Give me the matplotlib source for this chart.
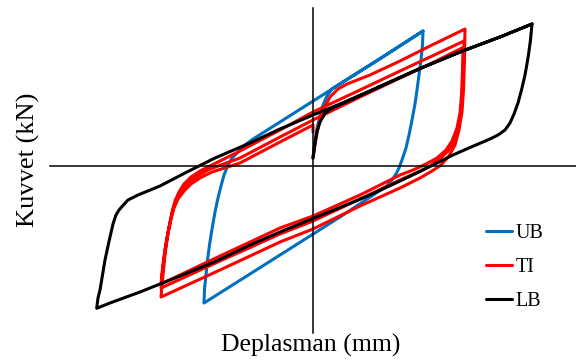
import matplotlib
matplotlib.use("Agg")
import matplotlib.pyplot as plt

# ---- data (displacement, force) ----
ub_disp = [0, 2, 4, 7, 10, 14, 19, 25, 67, 110,
           109.5, 108, 106, 104, 102, 99, 96, 93, 89, 86, 83, 79, 73,
           27, -33, -73, -109,
           -108.5, -107, -105.5, -103.5, -101, -98, -95, -92, -89, -85, -81, -75, -68, -61,
           -33, 0, 67, 110]
ub_force = [8.5, 26.5, 38.5, 50.5, 61.5, 70.5, 77.5, 81.5, 107.8, 135.5,
            121.5, 106.5, 91.5, 76.5, 62.5, 46.5, 31.5, 18.5, 6.5, -1.5, -7.5, -13.5, -20,
            -50.5, -88.5, -113.8, -136.5,
            -122.5, -108.5, -93.5, -78.5, -62.5, -45.5, -31.5, -19.5, -8.5, 1.5, 8.5, 14.5, 21.5, 26.8,
            44.5, 65.4, 107.8, 135.5]

ti_disp = [0, 2, 5, 10, 17, 25, 34, 57, 87, 117, 152,
           151.5, 150.5, 149, 146, 142, 136, 128, 119, 107, 87, 47, 0, -33, -93, -152,
           -151, -149.5, -148, -146, -143.5, -141, -138, -134, -129, -122, -113, -101, -73, -33, 0, 47, 87, 117, 151,
           150.5, 149.5, 148, 145, 141, 135, 127, 117, 105, 87, 47, 0, -33, -93, -152,
           -151, -149.5, -147.5, -145, -142, -139, -135, -130, -123, -114, -103, -73, -33, 0, 47, 87, 117, 150,
           149.5, 148.5, 147, 144, 139, 133, 124, 113, 100, 87, 47, 0, -33, -93, -152,
           -151, -149.5, -147.5, -145, -142, -139, -135, -129, -122, -113, -101, -73, -33, 0, 0]
ti_force = [8.5, 21.5, 39.5, 56.5, 69.5, 77.5, 82.5, 91.5, 105.5, 120.5, 137.5,
            106.5, 76.5, 54.5, 36.5, 21.5, 10.5, 1.5, -4.5, -11.5, -21.5, -39.5, -62.5, -75.5, -103.5, -130.5,
            -118.5, -103.5, -88.5, -73.5, -58.5, -45.5, -34.5, -25.5, -17.5, -10.5, -4.5, 1.5, 15.5, 36.5, 54.5, 76.5, 95.5, 109.5, 125.5,
            101.5, 74.5, 54.5, 38.5, 25.5, 15.5, 7.5, 0.5, -5.5, -13.5, -32.5, -54.5, -67.5, -94.5, -121.5,
            -110.5, -96.5, -81.5, -66.5, -51.5, -39.5, -29.5, -21.5, -14.5, -8.5, -2.5, 8.5, 29.5, 46.5, 69.5, 88.5, 102.5, 119,
            96.5, 71.5, 53.5, 38.5, 25.5, 16.5, 8.5, 2.5, -3.5, -8.5, -28.5, -49.5, -61.5, -89.5, -117.5,
            -106.5, -93.5, -79.5, -65.5, -52.5, -41.5, -32.5, -24.5, -17.5, -11.5, -5.5, 3.5, 24.5, 41.5, 34.5]

lb_disp = [0, 2, 3.7, 7, 12, 17, 24, 32, 57, 107, 147, 187, 219,
           217.5, 215, 212, 208.5, 205, 201, 197, 192, 185, 177, 157, 140, 120, 107, 87, 57, 27, 0,
           -33, -63, -98, -133, -173, -203, -216.3,
           -215, -213, -210.5, -208, -205, -203, -200, -197, -194, -191, -185, -175, -153, -128, -98,
           -63, -33, 0, 27, 57, 107, 147, 187, 219]
lb_force = [8.5, 23.5, 33.5, 44.5, 53, 57, 60.5, 64, 75.5, 98, 114.5, 129.5, 142.5,
            126.5, 108.5, 91.5, 76.5, 63.5, 52.5, 43.5, 36.5, 31.5, 27.5, 19, 11.5, 1.5, -5, -14.5, -28.5, -41, -52,
            -65.5, -78.5, -95.2, -109.5, -125.5, -136.5, -141.8,
            -131.5, -123.5, -108.5, -93.5, -79.5, -70.5, -57.5, -48.5, -43.5, -40, -33.5, -28.5, -19.5, -6.5, 8.5,
            23.5, 37.5, 51.5, 62.5, 75.5, 98, 114.5, 129.5, 142.5]

labels = ["UB", "TI", "LB"]
colors = ["#0070C0", "#FF0000", "#000000"]

plt.rcParams['font.family'] = ['Liberation Serif', 'DejaVu Serif']

fig = plt.figure(figsize=(5.76, 3.62), dpi=100)
ax = fig.add_axes([50 / 576, 29 / 362, 526 / 576, 325 / 362])

series = [(ub_disp, ub_force), (ti_disp, ti_force), (lb_disp, lb_force)]
for (x, y), lab, col in zip(series, labels, colors):
    ax.plot(x, y, color=col, lw=2.2, label=lab, solid_joinstyle='round', solid_capstyle='round')

ax.set_xlim(-263, 263)
ax.set_ylim(-166.5, 158.5)
for s in ['top', 'right']:
    ax.spines[s].set_visible(False)
ax.spines['left'].set_position(('data', 0))
ax.spines['bottom'].set_position(('data', 0))
ax.spines['left'].set_linewidth(1.1)
ax.spines['bottom'].set_linewidth(1.1)
ax.set_xticks([])
ax.set_yticks([])
ax.patch.set_visible(False)

fig.text(28 / 576, 1 - 160 / 362, "Kuvvet (kN)", rotation=90, ha='center', va='center', fontsize=19)
fig.text(311 / 576, 1 - 345 / 362, "Deplasman (mm)", ha='center', va='center', fontsize=18.5)

ax.legend(loc='upper left', bbox_to_anchor=(486 / 576, 1 - 224 / 362), bbox_transform=fig.transFigure,
          frameon=False, fontsize=14.5, handlelength=1.3, handletextpad=0.15, labelspacing=0.75,
          borderpad=0, borderaxespad=0)

fig.savefig("out.png", dpi=100)
